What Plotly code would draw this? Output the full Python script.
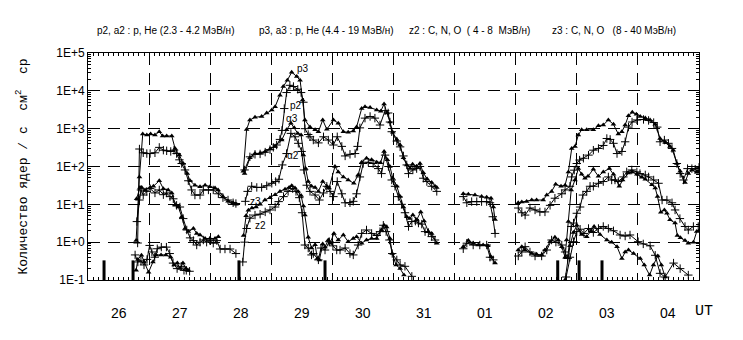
import math
import plotly.graph_objects as go

# time axis: hours since 2003-10-26 00:00 UT
day_labels = ["26", "27", "28", "29", "30", "31", "01", "02", "03", "04"]
ytick_vals = [0.1, 1, 10, 100, 1000, 10000, 100000]
ytick_text = ["1E-1", "1E+0", "1E+1", "1E+2", "1E+3", "1E+4", "1E+5"]

# ---- p3 (triangles) ----
p3_tA = [18.9,20.2,21.5,23.1,24.6,26.3,28.0,29.3,30.9,32.9,34.2,35.9,37.4,39.0,40.1,42.0,44.0,46.0,47.9,49.9,51.1,53.0,55.0,57.0,58.1]
p3_vA = [1.1,53,720,680,720,680,830,640,640,640,300,200,120,65,42,32,29,32,29,27,24,16,12,11,10]
p3_tB = [61.0,62.3,63.6,65.6,68.2,70.2,72.2,73.5,75.4,76.7,78.3,80.0,82.0,83.3,84.3,85.2,87.2,89.2,90.5,92.2,93.8,96.4,98.3,100.3,102.2,104.2,105.5,107.5,108.8,110.8,113.4,115.0,116.3,117.6,118.6,119.7,121.3,122.6,123.9,125.2,126.5,127.5,129.0,130.4,131.7,133.2,135.0,136.3,137.0]
p3_vB = [75,950,1700,2000,2100,2600,3100,3800,7700,13000,19000,31000,24000,19000,5700,1700,1100,930,830,1700,960,1700,1400,830,800,870,1100,3400,3800,3600,3100,2900,4500,2600,1500,800,520,370,170,110,90,115,100,120,68,47,38,30,28]
p3_tC = [147.4,149.4,152.0,154.6,156.6,158.3,159.2,159.9]
p3_vC = [19,18.5,17.6,16,15.5,14.5,8.5,4.0]
p3_tD = [169.0,170.4,172.3,174.3,176.2,178.8,180.2,182.1,183.7,185.8,187.4,188.7,190.0,191.3,192.6,193.9,195.9,198.5,200.5,202.4,204.4,206.4,208.3,209.7,211.0,212.3,213.8,215.4,216.9,218.9,220.8,222.8,224.7,226.7,228.6,229.9,231.3,232.6,234.5,235.8,237.2,239.1,240.0]
p3_vD = [11,11.5,11.8,13,13,13,17.6,22,34,30,32,72,300,340,680,930,930,930,1200,1250,1700,1300,720,830,1250,2200,2700,2400,2100,1900,1700,1300,550,430,340,270,120,75,38,65,81,70,72]

# ---- p2 (crosses) ----
p2_tA = [19.5,20.2,21.7,23.1,24.4,26.3,28.0,29.6,30.9,32.5,33.8,34.8,35.9,36.8,38.1,39.4,40.7,42.0,44.0,45.3,47.3,49.2,51.2,53.0,55.0,57.0,58.1]
p2_vA = [0.95,290,230,220,220,230,320,270,260,250,270,220,150,120,81,42,24,17.6,17.6,24,24,24,19,15,13,11,10.5]
p2_tB = [61.5,63.6,65.6,67.6,69.6,71.5,72.8,74.1,75.4,76.2,77.1,78.0,79.3,80.7,82.4,83.7,84.6,85.2,86.5,87.2,88.5,90.5,92.5,94.4,96.4,97.9,99.7,101.0,102.9,104.9,105.9,106.8,108.8,110.8,112.7,114.7,116.7,117.9,118.6,119.3,121.3,122.6,123.9,125.2,125.9,127.6,129.1,130.4,131.7,133.1,135.0,137.0]
p2_vB = [81,180,210,215,240,280,320,370,520,900,3400,9000,14000,13000,11000,9000,5000,1000,700,610,500,420,610,500,370,610,340,190,210,220,340,1050,1900,2100,1900,1250,3000,2600,1500,830,470,330,190,110,65,81,88,100,49,40,30,22]
p2_tC = [147.4,148.8,150.7,152.7,154.6,156.6,157.9,159.0,159.9]
p2_vC = [16,11,11.8,11.8,11.8,11.8,11,4.7,1.7]
p2_tD = [169.0,170.4,171.7,173.6,175.6,177.5,179.5,181.5,183.4,186.1,187.4,189.3,190.0,191.0,192.0,193.1,194.6,196.6,198.5,200.5,202.4,203.8,205.1,206.4,207.8,209.7,211.0,212.3,213.7,215.6,218.2,220.2,222.2,223.6,224.7,226.4,228.0,229.4,231.3,232.6,233.9,235.5,237.2,238.5,240.0]
p2_vD = [8,6,5.2,8,7.1,6.3,6.3,9.4,14.5,19,24,30,53,80,120,148,165,200,270,300,360,550,520,410,220,250,450,1100,1500,1700,1750,1650,1450,1100,450,500,410,300,120,65,44,88,88,85,95]

# ---- a3 (triangles) ----
a3_tA = [19.1,20.4,21.1,22.4,24.4,25.7,28.0,29.6,31.5,32.9,34.2,35.5,36.8,38.1,39.4,41.4,42.7,44.0,46.0,47.9,49.9,51.2]
a3_vA = [14,28,28,24,28,30,42,26,24,20,9.4,8.5,4.7,2.3,1.9,2.3,1.7,1.55,1.25,1.25,1.25,1.4]
a3_tB = [61.5,63.6,65.6,67.6,69.6,71.5,73.5,76.1,78.0,79.7,81.0,82.4,83.7,84.6,85.5,86.5,87.8,89.2,90.5,92.2,93.8,94.7,97.0,98.3,100.3,102.2,104.4,106.1,107.5,109.4,111.4,113.4,114.9,116.3,117.6,118.6,119.7,121.3,122.6,123.9,125.2,126.2,127.6,129.1,130.7,132.0,133.7,135.0,137.0]
a3_vB = [65,170,220,225,250,290,350,500,930,1400,1050,750,680,200,88,40,30,28,22,40,30,27,100,72,53,44,36,60,130,165,150,130,125,250,150,100,49,30,16,8.5,4.7,4.2,5.2,3.9,6.3,3.6,1.9,1.7,0.94]
a3_tC = [147.4,149.4,151.3,153.3,155.2,157.1,158.3,159.9]
a3_vC = [0.76,1.1,0.94,0.84,0.84,0.8,0.41,0.28]
a3_tD = [169.0,170.4,171.7,174.3,176.2,178.2,179.5,181.5,183.4,184.7,186.1,187.4,188.0,188.7,189.8,191.3,192.6,193.9,195.2,196.4,198.5,200.5,202.4,204.8,206.4,208.7,210.0,212.3,213.7,215.6,217.6,218.9,221.5,222.8,223.7,225.0,226.4,227.4,228.6,230.6,231.5,232.7,234.5,235.8,237.8,239.1,240.0]
a3_vD = [0.62,0.76,0.62,0.5,0.48,0.46,0.62,1.03,1.35,1.14,0.76,0.4,1.14,3.5,24,44,88,62,49,55,85,55,72,88,62,30,44,67,72,62,52,46,33,27,16,6.2,7.1,5.8,3.9,3.2,1.5,1.3,1.1,0.94,1.0,1.9,2.0]

# ---- a2 (crosses) ----
a2_tA = [19.2,20.2,20.8,21.7,23.1,24.4,26.3,28.0,29.6,30.9,32.2,33.5,34.8,36.1,37.4,38.8,40.1,41.4,42.7,44.0,45.3,46.6,47.9,49.2,50.6,51.9,53.8,55.8,58.1]
a2_vA = [3.5,13,24,17.6,22,26,20,24,18,20,16,14,9.4,8.5,4.2,2.1,1.3,1.1,0.84,1.0,1.14,1.0,1.1,0.94,1.1,0.66,0.66,0.66,0.5]
a2_tB = [61.8,62.7,64.3,66.3,68.2,70.2,72.2,73.7,75.0,76.3,78.0,79.7,81.3,82.6,83.9,84.8,85.9,87.2,89.2,90.9,92.5,93.8,95.1,96.4,97.9,99.7,101.0,102.9,104.2,105.5,106.8,108.1,110.1,112.0,114.0,115.3,116.7,118.0,119.3,120.6,121.9,123.2,124.5,125.9,127.2,128.6,129.8,131.1,132.4,133.7,135.0,136.3]
a2_vB = [12,22,30,28,28,31,36,40,46,110,220,750,610,410,250,81,32,22,17.6,13,20,30,22,16,40,19,11,11,12,19,53,120,130,120,88,65,200,100,44,30,16,10,6.0,2.6,3.5,3.6,3.2,3.0,1.9,1.8,1.4,1.14]
a2_tC = [147.4,148.8,151.3,153.9,156.6,157.9,159.2]
a2_vC = [0.67,0.94,0.84,0.84,0.84,0.4,0.34]
a2_tD = [169.0,170.4,171.7,173.6,175.6,178.2,180.2,182.1,183.8,186.1,187.4,188.4,189.8,190.7,192.0,193.3,194.4,195.9,197.2,198.5,200.5,202.4,204.4,205.7,207.0,208.3,210.3,211.6,213.6,215.6,216.8,218.9,220.2,222.2,224.1,225.5,227.4,229.4,230.6,232.5,234.5,235.8,237.8,239.7]
a2_vD = [0.43,0.55,0.76,0.55,0.43,0.43,0.62,1.14,1.0,0.84,0.55,0.37,2.6,3.2,5.8,8.5,17.6,22,30,30,36,40,53,44,44,40,53,72,81,72,65,60,53,44,36,13,13,11,7.1,4.2,2.6,2.1,2.6,2.6]

# ---- z3 (triangles) ----
z3_tA = [18.9,19.6,21.0,22.0,23.8,25.5,26.8,28.7,30.6,32.5,33.8,35.1,36.1,37.3,38.5,39.3]
z3_vA = [0.18,0.35,0.45,0.3,0.16,0.3,0.46,0.46,0.46,0.4,0.25,0.28,0.2,0.28,0.2,0.18]
z3_tB = [61.1,62.1,63.0,64.4,66.0,67.6,69.5,71.5,73.5,75.4,77.4,79.0,80.0,81.3,82.5,83.7,84.6,85.2,86.5,87.8,89.2,90.1,90.9,92.2,93.1,94.4,95.1,96.6,98.3,100.3,102.2,104.2,105.5,107.5,109.4,111.4,113.4,115.3,116.3,117.3,118.6,119.5,121.0,122.6,124.1]
z3_vB = [1.5,5,7,8,8.5,10,13,15,18,22,25,28,31,27,22,17,9,5.2,1.35,0.7,0.85,0.37,0.34,0.9,0.75,1.14,0.94,1.7,1.14,1.55,1.03,1.25,1.4,0.94,1.14,1.25,1.25,2.1,2.8,2.5,1.25,0.5,0.25,0.2,0.135]
z3_tD = [187.4,189.3,190.7,192.0,193.9,195.9,197.6,198.8,201.1,203.8,205.7,207.8,209.7,211.0,212.3,214.3,216.9,218.5,220.6,222.1,223.8,225.2,226.7]
z3_vD = [0.1,0.8,1.8,2.8,1.6,1.4,2.0,2.6,1.6,1.14,1.0,0.76,0.37,0.55,0.62,0.5,0.37,0.25,0.135,0.25,0.43,0.25,0.12]

# ---- z2 (crosses) ----
z2_tA = [18.5,19.6,20.8,22.0,23.2,24.2,25.1,26.2,27.2,28.8,30.8,32.1,33.4,35.0,36.6,37.7,38.6,39.9]
z2_vA = [0.46,0.3,0.32,0.25,0.35,0.82,0.55,0.4,0.67,0.74,0.74,0.5,0.28,0.2,0.23,0.18,0.18,0.17]
z2_tB = [60.8,61.5,62.3,63.6,65.6,67.6,69.6,71.5,73.5,74.9,76.8,78.6,80.4,81.7,83.0,84.1,85.2,86.5,87.8,88.5,90.5,91.5,93.1,94.8,96.2,97.7,99.0,101.0,102.9,104.2,106.1,107.5,109.4,111.4,113.4,114.7,116.0,117.1,118.4,119.5,121.3,122.6,124.5,127.2]
z2_vB = [0.3,1.0,2.3,4.3,5.2,5.5,6.3,7.1,8.5,11.8,16,22,26,22,15,6,0.84,0.7,0.46,0.5,0.34,0.7,0.62,1.03,0.8,0.62,0.62,0.7,0.5,0.46,0.84,1.7,2.1,1.7,1.5,1.9,2.8,1.9,1.14,0.5,0.34,0.25,0.23,0.125]
z2_tD = [187.8,189.3,190.7,192.0,193.3,194.8,196.6,198.5,200.5,202.4,204.4,206.4,209.0,211.0,212.9,216.1,218.1,220.8,222.8,224.7,226.7,230.0,232.6,235.8]
z2_vD = [0.12,0.4,1.03,1.9,2.2,1.7,2.3,1.8,2.3,2.6,2.3,2.0,1.55,1.45,1.55,1.03,0.9,0.8,0.45,0.15,0.12,0.28,0.2,0.135]

# event markers at the bottom
bar_t = [6.3, 17.7, 59.3, 93.1, 184.5, 192.9, 201.9]
bar_lo, bar_hi = 0.1, 0.33


def join(*segs):
    out = []
    for s in segs:
        if out:
            out.append(None)
        out.extend(s)
    return out


series = [
    ("p3", "tri", [(p3_tA, p3_vA), (p3_tB, p3_vB), (p3_tC, p3_vC), (p3_tD, p3_vD)]),
    ("p2", "cross", [(p2_tA, p2_vA), (p2_tB, p2_vB), (p2_tC, p2_vC), (p2_tD, p2_vD)]),
    ("a3", "tri", [(a3_tA, a3_vA), (a3_tB, a3_vB), (a3_tC, a3_vC), (a3_tD, a3_vD)]),
    ("a2", "cross", [(a2_tA, a2_vA), (a2_tB, a2_vB), (a2_tC, a2_vC), (a2_tD, a2_vD)]),
    ("z3", "tri", [(z3_tA, z3_vA), (z3_tB, z3_vB), (z3_tD, z3_vD)]),
    ("z2", "cross", [(z2_tA, z2_vA), (z2_tB, z2_vB), (z2_tD, z2_vD)]),
]

fig = go.Figure()
for name, kind, segs in series:
    for t, v in segs:
        assert len(t) == len(v), (name, len(t), len(v))
    xs = join(*[t for t, _ in segs])
    ys = join(*[v for _, v in segs])
    if kind == "tri":
        marker = dict(symbol="triangle-up", size=5, color="black", line=dict(width=0))
    else:
        marker = dict(symbol="cross-thin", size=6, color="black", line=dict(width=1, color="black"))
    fig.add_trace(go.Scatter(x=xs, y=ys, mode="lines+markers", name=name,
                             line=dict(color="black", width=1), marker=marker,
                             connectgaps=False, showlegend=False, hoverinfo="skip"))

bx, by = [], []
for t in bar_t:
    bx += [t, t, None]
    by += [bar_lo, bar_hi, None]
fig.add_trace(go.Scatter(x=bx, y=by, mode="lines", line=dict(color="black", width=3),
                         showlegend=False, hoverinfo="skip"))

grid_dash = "12px,8px"
fig.update_xaxes(
    range=[0, 240], tickmode="array", tickvals=list(range(0, 241, 24)),
    showticklabels=False, ticks="inside", ticklen=5, tickcolor="black",
    showgrid=True, gridcolor="black", gridwidth=1, griddash=grid_dash,
    showline=True, linecolor="black", linewidth=1, mirror="ticks", zeroline=False,
    minor=dict(tickmode="array", tickvals=list(range(0, 241, 2)), ticks="inside",
               ticklen=3, tickcolor="black", showgrid=False),
)
minor_y = [k * 10.0 ** e for e in range(-1, 5) for k in range(2, 10)]
fig.update_yaxes(
    type="log", range=[-1, 5], tickmode="array", tickvals=ytick_vals, ticktext=ytick_text,
    ticks="inside", ticklen=6, tickcolor="black",
    tickfont=dict(family="Liberation Sans, Arial", size=12, color="black"),
    showgrid=True, gridcolor="black", gridwidth=1, griddash=grid_dash,
    showline=True, linecolor="black", linewidth=1, mirror="ticks", zeroline=False,
    minor=dict(tickmode="array", tickvals=minor_y, ticks="inside", ticklen=3,
               tickcolor="black", showgrid=False),
)

ann = []
for i, lab in enumerate(day_labels):
    ann.append(dict(x=24 * i + 12, y=-0.145, xref="x", yref="paper", text=lab, showarrow=False,
                    font=dict(family="Liberation Sans Narrow, Liberation Sans, Arial", size=14, color="black"),
                    xanchor="center", yanchor="middle"))
ann.append(dict(x=0.99, y=-0.14, xref="paper", yref="paper", text="UT", showarrow=False,
                font=dict(family="Liberation Mono, Courier New", size=15, color="black"),
                xanchor="left", yanchor="middle"))
ann.append(dict(x=-0.108, y=0.5, xref="paper", yref="paper",
                text="Количество ядер / с  см<sup>2</sup>  ср", textangle=-90, showarrow=False,
                font=dict(family="Liberation Mono, Courier New", size=13, color="black"),
                xanchor="center", yanchor="middle"))

head = [
    (95, "p2, a2 : p, He (2.3 - 4.2 МэВ/н)"),
    (257, "p3, a3 : p, He (4.4 - 19 МэВ/н)"),
    (407, "z2 : C, N, O  ( 4 - 8  МэВ/н)"),
    (550, "z3 : C, N, O   (8 - 40 МэВ/н)"),
]
for px, txt in head:
    ann.append(dict(x=(px - 88) / 611, y=1.097, xref="paper", yref="paper", text=txt, showarrow=False,
                    font=dict(family="Liberation Sans Narrow, Liberation Sans, Arial", size=10, color="black"),
                    xanchor="left", yanchor="middle"))

curve_labels = [
    ("p3", 84.5, 38000), ("p2", 81.7, 4200), ("α3", 80.1, 1900),
    ("α2", 80.5, 200), ("z3", 65.8, 11.9), ("z2", 67.6, 2.84),
]
for txt, t, v in curve_labels:
    ann.append(dict(x=t, y=math.log10(v), xref="x", yref="y", text=txt, showarrow=False,
                    font=dict(family="Liberation Sans, Arial", size=10, color="black"),
                    xanchor="center", yanchor="middle"))

# the page body has an 8px default margin, so the figure margins are shifted by 8px
fig.update_layout(
    width=743, height=340, margin=dict(l=80, r=52, t=45, b=68),
    paper_bgcolor="white", plot_bgcolor="white", annotations=ann, showlegend=False,
)
fig.write_html("out.html")
